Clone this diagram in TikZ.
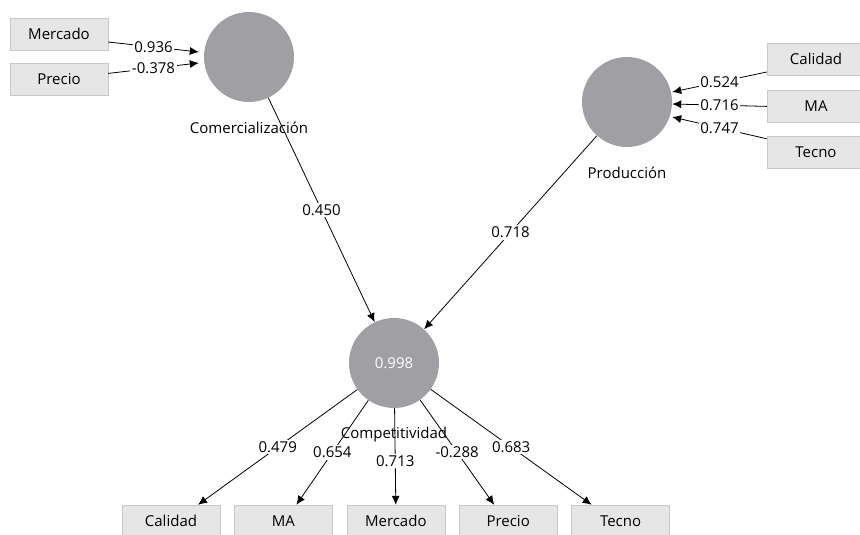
\documentclass[tikz,border=0pt]{standalone}
\usepackage{fontspec}
\setmainfont{Open Sans}
\usetikzlibrary{positioning,arrows.meta}
\definecolor{lvfill}{RGB}{160,160,164}
\definecolor{mvfill}{RGB}{230,230,230}
\definecolor{mvline}{RGB}{200,200,200}
\tikzset{
  latent/.style={circle,fill=lvfill,minimum size=90pt,inner sep=0pt},
  manifest/.style={rectangle,fill=mvfill,draw=mvline,minimum width=98pt,minimum height=32pt,inner sep=0pt,font=\fontsize{15}{17}\selectfont},
  lvname/.style={inner sep=0pt,font=\fontsize{15}{17}\selectfont},
  coef/.style={fill=white,inner sep=1.5pt,font=\fontsize{15}{17}\selectfont},
  pathline/.style={-{Latex[length=9pt,width=8pt]},line width=0.8pt}
}

\begin{document}
\begin{tikzpicture}[x=1pt,y=-1pt]
\useasboundingbox (0,0) rectangle (860,535);
\clip (0,0) rectangle (860,535);
%% latent variables
\node [latent] (comm) at (249,57) {};
\node [latent] (prod) at (627,102) {};
\node [latent,text=white,font=\fontsize{15}{17}\selectfont] (comp) at (394,363) {0.998};
\node [lvname,below=26pt of comm.south,anchor=center] (commName) {Comercialización};
\node [lvname,below=26pt of prod.south,anchor=center] (prodName) {Producción};
\node [lvname,below=26pt of comp.south,anchor=center] (compName) {Competitividad};
%the indicators
\node [manifest] (xMercado) at (59,34) {Mercado};
\node [manifest,below=13pt of xMercado] (xPrecio) {Precio};
\node [manifest] (pCalidad) at (816,59) {Calidad};
\node [manifest,below=15pt of pCalidad] (pMA) {MA};
\node [manifest,below=13pt of pMA] (pTecno) {Tecno};
\node [manifest] (yCalidad) at (171,521) {Calidad};
\node [manifest,right=14pt of yCalidad] (yMA) {MA};
\node [manifest,right=14pt of yMA] (yMercado) {Mercado};
\node [manifest,right=14pt of yMercado] (yPrecio) {Precio};
\node [manifest,right=14pt of yPrecio] (yTecno) {Tecno};
%drawings of lines
\draw [pathline] ([yshift=-8pt]xMercado.east) -- node[coef] {0.936} ([xshift=-5pt,yshift=5pt]comm.west);
\draw [pathline] ([yshift=6pt]xPrecio.east) -- node[coef] {-0.378} ([xshift=-5pt,yshift=-6pt]comm.west);

\draw [pathline] ([yshift=-13pt]pCalidad.west) -- node[coef] {0.524} ([yshift=10pt]prod.east);
\draw [pathline] (pMA.west) -- node[coef] {0.716} ([yshift=-2pt]prod.east);
\draw [pathline] ([yshift=13pt]pTecno.west) -- node[coef] {0.747} ([yshift=-15pt]prod.east);

\draw [pathline] (comm) -- node[coef] {0.450} (comp);
\draw [pathline] (prod) -- node[coef] {0.718} (comp);

\draw [pathline] (comp) -- node[coef] {0.479} ([xshift=27pt]yCalidad.north);
\draw [pathline] (comp) -- node[coef] {0.654} ([xshift=13pt]yMA.north);
\draw [pathline] (comp) -- node[coef,pos=0.55] {0.713} (yMercado.north);
\draw [pathline] (comp) -- node[coef] {-0.288} ([xshift=-14pt]yPrecio.north);
\draw [pathline] (comp) -- node[coef] {0.683} ([xshift=-29pt]yTecno.north);

\end{tikzpicture}
\end{document}
